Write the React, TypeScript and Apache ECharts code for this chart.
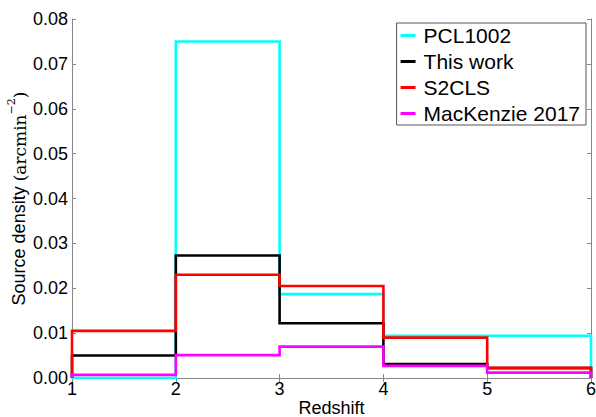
import React, { useEffect, useRef } from "react";
import * as echarts from "echarts";

const binEdges = [1, 2, 3, 4, 5, 6];
const seriesNames = ["PCL1002", "This work", "S2CLS", "MacKenzie 2017"];
const pcl1002 = [0.0, 0.075, 0.0187, 0.0094, 0.0094];
const thisWork = [0.005, 0.0273, 0.0122, 0.0031, 0.0022];
const s2cls = [0.0105, 0.0230, 0.0205, 0.0090, 0.0023];
const mackenzie = [0.0007, 0.0051, 0.0070, 0.0027, 0.0012];
const seriesColors = ["#00FFFF", "#000000", "#FF0000", "#FF00FF"];
const yTicks = [0, 0.01, 0.02, 0.03, 0.04, 0.05, 0.06, 0.07, 0.08];

function stepPoints(vals: number[]): number[][] {
  const pts: number[][] = [[binEdges[0], 0]];
  vals.forEach((v, i) => {
    pts.push([binEdges[i], v]);
    pts.push([binEdges[i + 1], v]);
  });
  pts.push([binEdges[binEdges.length - 1], 0]);
  return pts;
}

export default function App() {
  const ref = useRef<HTMLDivElement>(null);
  useEffect(() => {
    if (!ref.current) return;
    const chart = echarts.init(ref.current, null, { renderer: "svg" });
    const all = [pcl1002, thisWork, s2cls, mackenzie];
    const axisColor = "#888888";
    const font = "'Liberation Sans', Arial, sans-serif";
    const serif = "'DejaVu Serif', 'Liberation Serif', serif";
    chart.setOption({
      animation: false,
      backgroundColor: "#ffffff",
      grid: { left: 72, top: 19, right: 5, bottom: 39, containLabel: false, outerBoundsMode: "none" },
      legend: {
        orient: "vertical",
        right: 10,
        top: 23,
        padding: [2, 6, 1, 4],
        itemGap: 5,
        itemWidth: 15,
        itemHeight: 3,
        icon: "rect",
        borderColor: "#555555",
        borderWidth: 1,
        backgroundColor: "#ffffff",
        textStyle: {
          fontFamily: font,
          fontSize: 21,
          color: "#000000",
          lineHeight: 21,
          padding: [0, 0, 0, 3],
        },
        data: seriesNames,
      },
      xAxis: [
        {
          type: "value",
          min: 1,
          max: 6,
          interval: 1,
          name: "Redshift",
          nameLocation: "middle",
          nameGap: 21,
          nameMoveOverlap: false,
          nameTextStyle: { fontFamily: font, fontSize: 18, color: "#000" },
          axisLine: { show: true, lineStyle: { color: axisColor, width: 1 } },
          axisTick: { show: true, inside: true, length: 4, lineStyle: { color: axisColor } },
          axisLabel: { fontFamily: font, fontSize: 18, color: "#000", margin: 2 },
          splitLine: { show: false },
        },
        {
          type: "value",
          position: "top",
          min: 1,
          max: 6,
          interval: 1,
          axisLine: { show: true, lineStyle: { color: axisColor, width: 1 } },
          axisTick: { show: true, inside: true, length: 4, lineStyle: { color: axisColor } },
          axisLabel: { show: false },
          splitLine: { show: false },
        },
      ],
      yAxis: [
        {
          type: "value",
          min: 0,
          max: 0.08,
          interval: 0.01,
          name: "{a|Source density }{b|(arcmin}{c|−2}{b|)}",
          nameLocation: "middle",
          nameGap: 44,
          nameMoveOverlap: false,
          nameTextStyle: {
            rich: {
              a: { fontFamily: font, fontSize: 18, color: "#000", lineHeight: 22, verticalAlign: "bottom" },
              b: { fontFamily: serif, fontSize: 17, color: "#000", lineHeight: 22, verticalAlign: "bottom" },
              c: { fontFamily: serif, fontSize: 11, color: "#000", lineHeight: 22, verticalAlign: "top" },
            },
          },
          axisLine: { show: true, lineStyle: { color: axisColor, width: 1 } },
          axisTick: { show: true, inside: true, length: 4, lineStyle: { color: axisColor } },
          axisLabel: {
            fontFamily: font,
            fontSize: 18,
            color: "#000",
            margin: 4,
            formatter: (v: number) => {
              const t = yTicks.find((x) => Math.abs(x - v) < 1e-9);
              return (t !== undefined ? t : v).toFixed(2);
            },
          },
          splitLine: { show: false },
        },
        {
          type: "value",
          position: "right",
          min: 0,
          max: 0.08,
          interval: 0.01,
          axisLine: { show: true, lineStyle: { color: axisColor, width: 1 } },
          axisTick: { show: true, inside: true, length: 4, lineStyle: { color: axisColor } },
          axisLabel: { show: false },
          splitLine: { show: false },
        },
      ],
      series: all.map((vals, i) => ({
        name: seriesNames[i],
        type: "line",
        data: stepPoints(vals),
        showSymbol: false,
        symbol: "none",
        clip: true,
        lineStyle: { color: seriesColors[i], width: 2.6, join: "miter" },
        itemStyle: { color: seriesColors[i] },
        z: 2 + i,
      })),
    });
    return () => chart.dispose();
  }, []);
  return (
    <div
      ref={ref}
      style={{ position: "absolute", left: 0, top: 0, width: 596, height: 417 }}
    />
  );
}
